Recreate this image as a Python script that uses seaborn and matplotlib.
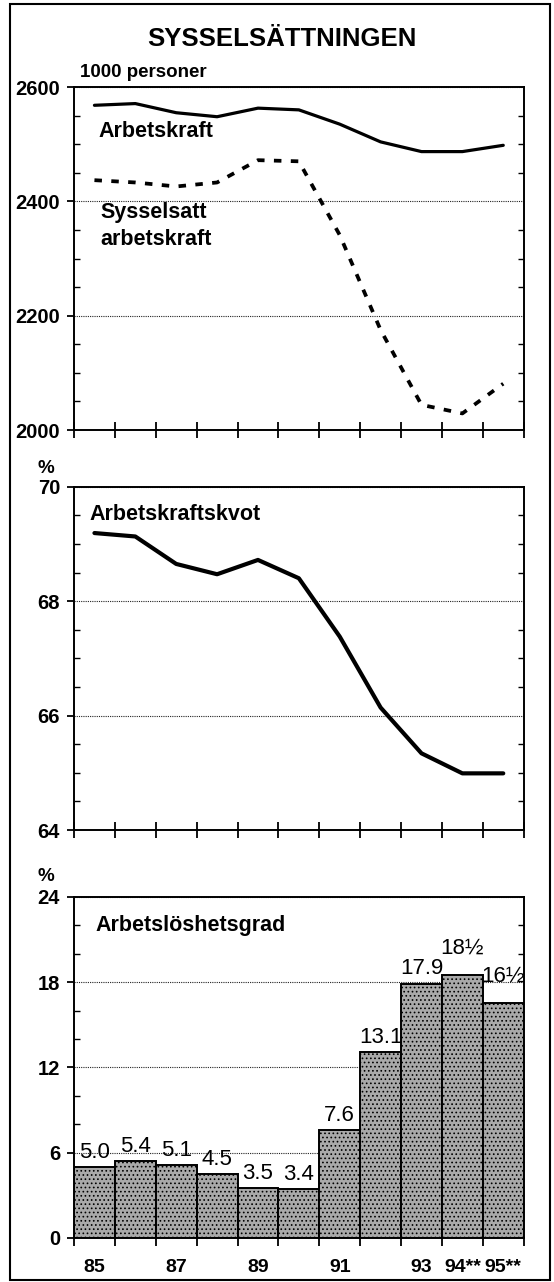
import numpy as np
import pandas as pd
import matplotlib
matplotlib.use("Agg")
import matplotlib.pyplot as plt
from matplotlib.ticker import MultipleLocator, FixedLocator, NullFormatter
from matplotlib.patches import Rectangle
import seaborn as sns

# Data
years = ["85", "86", "87", "88", "89", "90", "91", "92", "93", "94", "95"]
year_labels = ["85", "", "87", "", "89", "", "91", "", "93", "94**", "95**"]

arbetskraft = [2568, 2571, 2555, 2548, 2563, 2560, 2535, 2504, 2487, 2487, 2498]
sysselsatt = [2437, 2433, 2426, 2433, 2472, 2470, 2341, 2175, 2044, 2029, 2081]

kvot = [69.19, 69.13, 68.65, 68.47, 68.72, 68.40, 67.38, 66.14, 65.34, 64.99, 64.99]

arbetsloshet = [5.0, 5.4, 5.1, 4.5, 3.5, 3.4, 7.6, 13.1, 17.9, 18.5, 16.5]
arbetsloshet_txt = ["5.0", "5.4", "5.1", "4.5", "3.5", "3.4", "7.6", "13.1", "17.9", "18½", "16½"]

sns.set_theme(style="white")
plt.rcParams["font.family"] = ["Liberation Sans", "DejaVu Sans"]
plt.rcParams["font.weight"] = "bold"
plt.rcParams["text.color"] = "black"
plt.rcParams["xtick.color"] = "black"
plt.rcParams["ytick.color"] = "black"
plt.rcParams["xtick.labelcolor"] = "black"
plt.rcParams["ytick.labelcolor"] = "black"
plt.rcParams["hatch.linewidth"] = 0.7

W, H = 554, 1282
fig = plt.figure(figsize=(W / 100, H / 100), dpi=100)
fig.patch.set_facecolor("white")


def axes_px(left, top, right, bottom):
    return fig.add_axes([left / W, 1 - bottom / H, (right - left) / W, (bottom - top) / H])


def style_axes(ax, ymin, ymax, major, minor, bottom_panel=False):
    ax.set_xlim(-0.5, len(years) - 0.5)
    ax.set_ylim(ymin, ymax)
    ax.yaxis.set_major_locator(MultipleLocator(major))
    ax.yaxis.set_minor_locator(MultipleLocator(minor))
    ax.tick_params(axis="y", which="major", direction="out", length=5, width=1.3,
                   pad=5, labelsize=14.5, left=True, right=False)
    ax.tick_params(axis="y", which="minor", direction="in", length=4, width=1,
                   left=True, right=True)
    ax.xaxis.set_major_locator(FixedLocator(np.arange(-0.5, len(years), 1)))
    ax.xaxis.set_major_formatter(NullFormatter())
    if bottom_panel:
        ax.tick_params(axis="x", which="major", direction="out", length=6, width=1.3,
                       bottom=True)
        ax.xaxis.set_minor_locator(FixedLocator(np.arange(len(years))))
        ax.set_xticklabels(year_labels, minor=True)
        ax.tick_params(axis="x", which="minor", length=0, pad=15, labelsize=14)
    else:
        ax.tick_params(axis="x", which="major", direction="inout", length=11, width=1.3,
                       bottom=True)
    ax.grid(False)
    ax.yaxis.grid(True, which="major", linestyle=(0, (1, 1)), linewidth=0.8, color="#222222")
    for sp in ax.spines.values():
        sp.set_visible(True)
        sp.set_linewidth(1.4)
        sp.set_color("black")
    ax.set_xlabel("")
    ax.set_ylabel("")


# --- Panel 1: Arbetskraft / Sysselsatt arbetskraft
df1 = pd.DataFrame({"year": years, "Arbetskraft": arbetskraft, "Sysselsatt": sysselsatt})
ax1 = axes_px(74, 87, 523.7, 430)
sns.lineplot(data=df1, x="year", y="Arbetskraft", color="black", linewidth=2.3, ax=ax1)
sns.lineplot(data=df1, x="year", y="Sysselsatt", color="black", linewidth=2.7, ax=ax1)
ax1.lines[-1].set_dashes((2.0, 2.5))
style_axes(ax1, 2000, 2600, 200, 50)

# --- Panel 2: Arbetskraftskvot
df2 = pd.DataFrame({"year": years, "kvot": kvot})
ax2 = axes_px(74, 486.7, 523.7, 830)
sns.lineplot(data=df2, x="year", y="kvot", color="black", linewidth=3.0, ax=ax2)
style_axes(ax2, 64, 70, 2, 0.5)

# --- Panel 3: Arbetslöshetsgrad
df3 = pd.DataFrame({"year": years, "grad": arbetsloshet})
ax3 = axes_px(74, 897, 523.7, 1237.7)
sns.barplot(data=df3, x="year", y="grad", color="#a9a9a9", saturation=1, width=1.0,
            edgecolor="black", linewidth=1.4, ax=ax3, zorder=2)
for p in ax3.patches:
    p.set_hatch("....")
style_axes(ax3, 0, 24, 6, 2, bottom_panel=True)
ax3.set_axisbelow(True)
for i, (v, t) in enumerate(zip(arbetsloshet, arbetsloshet_txt)):
    off = 12 if "½" in t else 3
    ax3.annotate(t, (i, v), xytext=(0, off), textcoords="offset points",
                 ha="center", va="bottom", fontsize=16, fontweight="normal", zorder=5)


# --- Texts in figure pixel coordinates
def fig_text(x, y, s, **kw):
    fig.text(x / W, 1 - y / H, s, **kw)


fig_text(282, 39, "SYSSELSÄTTNINGEN", fontsize=18.5, ha="center", va="center")
fig_text(80, 77, "1000 personer", fontsize=13.5, ha="left", va="baseline")
fig_text(98, 137, "Arbetskraft", fontsize=15.5, ha="left", va="baseline")
fig_text(100, 218, "Sysselsatt", fontsize=15.5, ha="left", va="baseline")
fig_text(100, 245, "arbetskraft", fontsize=15.5, ha="left", va="baseline")
fig_text(37, 473, "%", fontsize=13.5, ha="left", va="baseline")
fig_text(89, 520, "Arbetskraftskvot", fontsize=15.5, ha="left", va="baseline")
fig_text(37, 881, "%", fontsize=13.5, ha="left", va="baseline")
fig_text(95, 931, "Arbetslöshetsgrad", fontsize=15.5, ha="left", va="baseline")

# outer frame
fig.patches.append(Rectangle((10 / W, 1 - 1280 / H), 540 / W, 1276 / H,
                             transform=fig.transFigure, fill=False, lw=1.5, ec="black"))

fig.savefig("out.png", dpi=100)
plt.close(fig)
